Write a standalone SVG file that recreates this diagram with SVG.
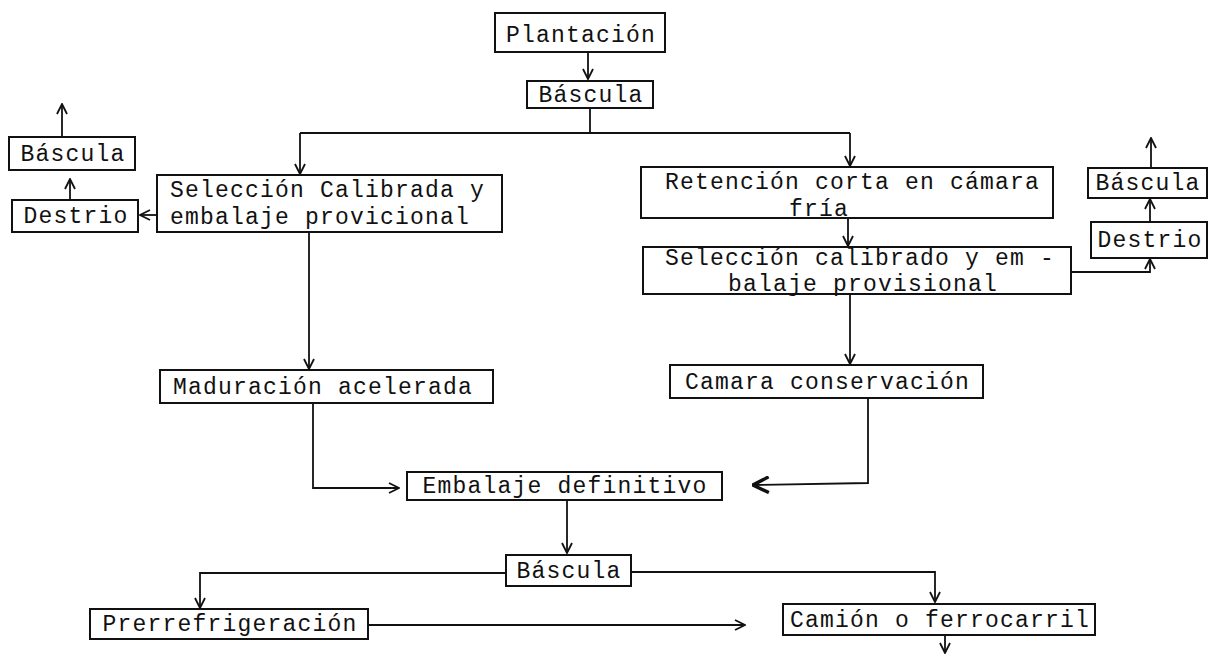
<svg xmlns="http://www.w3.org/2000/svg" width="1218" height="655" viewBox="0 0 1218 655">
<defs>
<marker id="a" viewBox="0 0 12 12" refX="11" refY="6" markerWidth="12" markerHeight="12" markerUnits="userSpaceOnUse" orient="auto">
<path d="M1,1 L11,6 L1,11" fill="none" stroke="#111" stroke-width="1.8"/>
</marker>
<marker id="b" viewBox="0 0 16 16" refX="15" refY="8" markerWidth="18" markerHeight="18" markerUnits="userSpaceOnUse" orient="auto">
<path d="M1,1 L15,8 L1,15" fill="none" stroke="#111" stroke-width="3"/>
</marker>
</defs>
<style>
rect{fill:#fff;stroke:#111;stroke-width:2}
text{font-family:"Liberation Mono","DejaVu Sans Mono",monospace;font-size:23px;letter-spacing:1.2px;fill:#111}
.c path,.c line,.c polyline{fill:none;stroke:#111;stroke-width:1.8}
</style>
<rect x="0" y="0" width="1218" height="655" style="fill:#fff;stroke:none"/>
<g class="c" id="connectors">
<line x1="588" y1="52" x2="588" y2="79" marker-end="url(#a)"/>
<polyline points="590,108 590,133"/>
<polyline points="300,133 850,133"/>
<line x1="300" y1="133" x2="300" y2="174" marker-end="url(#a)"/>
<line x1="850" y1="133" x2="850" y2="166" marker-end="url(#a)"/>
<line x1="157" y1="215" x2="140" y2="215" marker-end="url(#a)"/>
<line x1="70" y1="199" x2="70" y2="179" marker-end="url(#a)"/>
<line x1="62" y1="137" x2="62" y2="104" marker-end="url(#a)"/>
<line x1="309" y1="232" x2="309" y2="369" marker-end="url(#a)"/>
<polyline points="313,403 313,488 399,488" marker-end="url(#a)"/>
<line x1="848" y1="218" x2="848" y2="246" marker-end="url(#a)"/>
<polyline points="1071,272 1150,272 1150,259" marker-end="url(#a)"/>
<line x1="1150" y1="222" x2="1150" y2="199" marker-end="url(#a)"/>
<line x1="1151" y1="168" x2="1151" y2="138" marker-end="url(#a)"/>
<line x1="850" y1="294" x2="850" y2="364" marker-end="url(#a)"/>
<polyline points="868,398 868,483 753,485" marker-end="url(#b)"/>
<line x1="567" y1="500" x2="567" y2="553" marker-end="url(#a)"/>
<polyline points="506,573 200,573 200,608" marker-end="url(#a)"/>
<polyline points="631,572 935,572 935,602" marker-end="url(#a)"/>
<line x1="368" y1="625" x2="745" y2="625" marker-end="url(#a)"/>
<line x1="945" y1="635" x2="945" y2="653" marker-end="url(#a)"/>
</g>
<g id="plantacion"><rect x="495" y="13" width="170" height="39"/><text x="581" y="42" text-anchor="middle">Plantación</text></g>
<g id="bascula1"><rect x="527" y="81" width="126" height="27"/><text x="591" y="102" text-anchor="middle">Báscula</text></g>
<g id="seleccion1"><rect x="157" y="175" width="345" height="57"/><text x="170" y="197">Selección Calibrada y</text><text x="170" y="224">embalaje provicional</text></g>
<g id="destrio1"><rect x="12" y="200" width="126" height="32"/><text x="76" y="223" text-anchor="middle">Destrio</text></g>
<g id="bascula2"><rect x="9" y="137" width="126" height="33"/><text x="73" y="161" text-anchor="middle">Báscula</text></g>
<g id="retencion"><rect x="641" y="167" width="412" height="51"/><text x="665" y="189">Retención corta en cámara</text><text x="789" y="216">fría</text></g>
<g id="seleccion2"><rect x="643" y="247" width="428" height="47"/><text x="665" y="265">Selección calibrado y em -</text><text x="728" y="291">balaje provisional</text></g>
<g id="destrio2"><rect x="1091" y="222" width="116" height="36"/><text x="1150" y="247" text-anchor="middle">Destrio</text></g>
<g id="bascula3"><rect x="1088" y="168" width="119" height="30"/><text x="1148" y="190" text-anchor="middle">Báscula</text></g>
<g id="maduracion"><rect x="160" y="370" width="333" height="33"/><text x="173" y="394">Maduración acelerada</text></g>
<g id="camara"><rect x="670" y="365" width="313" height="33"/><text x="685" y="389">Camara conservación</text></g>
<g id="embalaje"><rect x="407" y="472" width="315" height="28"/><text x="565" y="493" text-anchor="middle">Embalaje definitivo</text></g>
<g id="bascula4"><rect x="506" y="555" width="125" height="31"/><text x="569" y="578" text-anchor="middle">Báscula</text></g>
<g id="prerrefrigeracion"><rect x="90" y="609" width="278" height="30"/><text x="230" y="631" text-anchor="middle">Prerrefrigeración</text></g>
<g id="camion"><rect x="783" y="604" width="312" height="31"/><text x="940" y="627" text-anchor="middle">Camión o ferrocarril</text></g>
</svg>
